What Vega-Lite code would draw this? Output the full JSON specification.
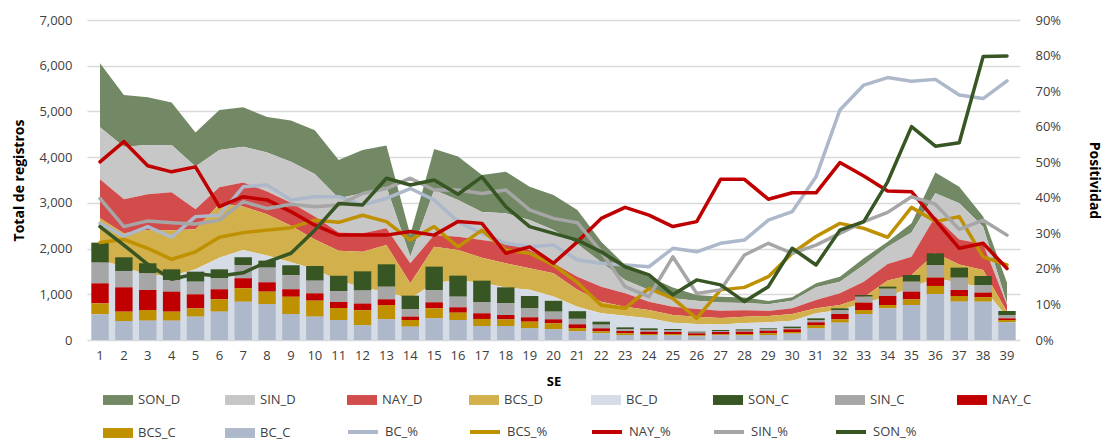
{
  "$schema": "https://vega.github.io/schema/vega-lite/v6.json",
  "width": 933,
  "height": 320,
  "autosize": {"type": "none"},
  "padding": {"left": 87, "top": 20, "right": 90, "bottom": 102},
  "config": {
    "font": "Open Sans",
    "view": {"stroke": null},
    "axis": {"labelColor": "#404040", "titleColor": "#000000", "labelFontSize": 13, "titleFontSize": 14, "titleFontWeight": "bold"},
    "legend": {"labelFontSize": 13, "labelColor": "#404040", "labelOffset": 5, "labelLimit": 90}
  },
  "datasets": {
    "series": [
      {"serie": "SON_D", "estado": "SON"}, {"serie": "SIN_D", "estado": "SIN"}, {"serie": "NAY_D", "estado": "NAY"}, {"serie": "BCS_D", "estado": "BCS"}, {"serie": "BC_D", "estado": "BC"},
      {"serie": "SON_C", "estado": "SON"}, {"serie": "SIN_C", "estado": "SIN"}, {"serie": "NAY_C", "estado": "NAY"}, {"serie": "BCS_C", "estado": "BCS"}, {"serie": "BC_C", "estado": "BC"}
    ],
    "semanas": [
      {"SE": 1, "SON_D": 1400, "SIN_D": 1138, "NAY_D": 854, "BCS_D": 912, "BC_D": 1750, "SON_C": 438, "SIN_C": 452, "NAY_C": 438, "BCS_C": 240, "BC_C": 562, "BC_%": 32.8, "BCS_%": 27.4, "NAY_%": 50.1, "SIN_%": 39.8, "SON_%": 31.9},
      {"SE": 2, "SON_D": 1131, "SIN_D": 1152, "NAY_D": 744, "BCS_D": 734, "BC_D": 1600, "SON_C": 299, "SIN_C": 358, "NAY_C": 532, "BCS_C": 204, "BC_C": 416, "BC_%": 29.2, "BCS_%": 28.3, "NAY_%": 55.8, "SIN_%": 31.9, "SON_%": 26.7},
      {"SE": 3, "SON_D": 1043, "SIN_D": 1080, "NAY_D": 780, "BCS_D": 987, "BC_D": 1420, "SON_C": 219, "SIN_C": 365, "NAY_C": 438, "BCS_C": 233, "BC_C": 423, "BC_%": 31.9, "BCS_%": 25.8, "NAY_%": 49.0, "SIN_%": 33.5, "SON_%": 21.3},
      {"SE": 4, "SON_D": 926, "SIN_D": 1036, "NAY_D": 831, "BCS_D": 1000, "BC_D": 1400, "SON_C": 233, "SIN_C": 255, "NAY_C": 438, "BCS_C": 197, "BC_C": 423, "BC_%": 28.9, "BCS_%": 22.7, "NAY_%": 47.3, "SIN_%": 33.0, "SON_%": 17.1},
      {"SE": 5, "SON_D": 744, "SIN_D": 934, "NAY_D": 439, "BCS_D": 870, "BC_D": 1550, "SON_C": 219, "SIN_C": 277, "NAY_C": 306, "BCS_C": 182, "BC_C": 511, "BC_%": 34.7, "BCS_%": 24.8, "NAY_%": 48.7, "SIN_%": 32.6, "SON_%": 18.6},
      {"SE": 6, "SON_D": 875, "SIN_D": 817, "NAY_D": 365, "BCS_D": 1176, "BC_D": 1800, "SON_C": 197, "SIN_C": 240, "NAY_C": 219, "BCS_C": 270, "BC_C": 620, "BC_%": 35.1, "BCS_%": 28.9, "NAY_%": 37.5, "SIN_%": 33.7, "SON_%": 18.0},
      {"SE": 7, "SON_D": 861, "SIN_D": 787, "NAY_D": 523, "BCS_D": 950, "BC_D": 1970, "SON_C": 168, "SIN_C": 292, "NAY_C": 219, "BCS_C": 292, "BC_C": 839, "BC_%": 43.1, "BCS_%": 30.2, "NAY_%": 40.3, "SIN_%": 38.9, "SON_%": 18.9},
      {"SE": 8, "SON_D": 780, "SIN_D": 850, "NAY_D": 500, "BCS_D": 900, "BC_D": 1850, "SON_C": 153, "SIN_C": 321, "NAY_C": 204, "BCS_C": 270, "BC_C": 788, "BC_%": 43.6, "BCS_%": 30.9, "NAY_%": 39.4, "SIN_%": 37.0, "SON_%": 22.0},
      {"SE": 9, "SON_D": 900, "SIN_D": 900, "NAY_D": 500, "BCS_D": 800, "BC_D": 1700, "SON_C": 219, "SIN_C": 306, "NAY_C": 161, "BCS_C": 379, "BC_C": 569, "BC_%": 39.4, "BCS_%": 31.6, "NAY_%": 36.1, "SIN_%": 38.2, "SON_%": 24.4},
      {"SE": 10, "SON_D": 960, "SIN_D": 930, "NAY_D": 500, "BCS_D": 650, "BC_D": 1550, "SON_C": 321, "SIN_C": 277, "NAY_C": 160, "BCS_C": 350, "BC_C": 511, "BC_%": 40.3, "BCS_%": 33.7, "NAY_%": 32.3, "SIN_%": 37.5, "SON_%": 30.9},
      {"SE": 11, "SON_D": 839, "SIN_D": 750, "NAY_D": 400, "BCS_D": 650, "BC_D": 1300, "SON_C": 336, "SIN_C": 240, "NAY_C": 132, "BCS_C": 262, "BC_C": 438, "BC_%": 40.3, "BCS_%": 33.1, "NAY_%": 29.5, "SIN_%": 38.0, "SON_%": 38.4},
      {"SE": 12, "SON_D": 949, "SIN_D": 875, "NAY_D": 401, "BCS_D": 783, "BC_D": 1150, "SON_C": 420, "SIN_C": 285, "NAY_C": 145, "BCS_C": 327, "BC_C": 325, "BC_%": 38.0, "BCS_%": 35.1, "NAY_%": 29.5, "SIN_%": 41.2, "SON_%": 38.0},
      {"SE": 13, "SON_D": 897, "SIN_D": 912, "NAY_D": 364, "BCS_D": 1029, "BC_D": 1050, "SON_C": 489, "SIN_C": 277, "NAY_C": 124, "BCS_C": 314, "BC_C": 452, "BC_%": 39.8, "BCS_%": 33.3, "NAY_%": 29.5, "SIN_%": 42.6, "SON_%": 45.5},
      {"SE": 14, "SON_D": 477, "SIN_D": 145, "NAY_D": 438, "BCS_D": 340, "BC_D": 900, "SON_C": 299, "SIN_C": 160, "NAY_C": 73, "BCS_C": 146, "BC_C": 292, "BC_%": 42.6, "BCS_%": 28.1, "NAY_%": 30.5, "SIN_%": 45.5, "SON_%": 43.6},
      {"SE": 15, "SON_D": 897, "SIN_D": 984, "NAY_D": 256, "BCS_D": 792, "BC_D": 1250, "SON_C": 511, "SIN_C": 270, "NAY_C": 131, "BCS_C": 219, "BC_C": 474, "BC_%": 39.4, "BCS_%": 31.9, "NAY_%": 29.5, "SIN_%": 42.2, "SON_%": 45.0},
      {"SE": 16, "SON_D": 949, "SIN_D": 802, "NAY_D": 292, "BCS_D": 669, "BC_D": 1300, "SON_C": 460, "SIN_C": 233, "NAY_C": 117, "BCS_C": 160, "BC_C": 438, "BC_%": 33.3, "BCS_%": 26.2, "NAY_%": 33.3, "SIN_%": 42.2, "SON_%": 41.0},
      {"SE": 17, "SON_D": 810, "SIN_D": 612, "NAY_D": 388, "BCS_D": 550, "BC_D": 1250, "SON_C": 474, "SIN_C": 240, "NAY_C": 124, "BCS_C": 154, "BC_C": 306, "BC_%": 30.0, "BCS_%": 30.9, "NAY_%": 32.8, "SIN_%": 41.2, "SON_%": 45.9},
      {"SE": 18, "SON_D": 911, "SIN_D": 657, "NAY_D": 437, "BCS_D": 528, "BC_D": 1150, "SON_C": 350, "SIN_C": 255, "NAY_C": 95, "BCS_C": 146, "BC_C": 306, "BC_%": 27.2, "BCS_%": 25.3, "NAY_%": 24.4, "SIN_%": 42.2, "SON_%": 37.5},
      {"SE": 19, "SON_D": 729, "SIN_D": 657, "NAY_D": 401, "BCS_D": 468, "BC_D": 1100, "SON_C": 270, "SIN_C": 197, "NAY_C": 95, "BCS_C": 146, "BC_C": 255, "BC_%": 26.2, "BCS_%": 24.4, "NAY_%": 26.2, "SIN_%": 36.6, "SON_%": 31.9},
      {"SE": 20, "SON_D": 766, "SIN_D": 729, "NAY_D": 219, "BCS_D": 509, "BC_D": 950, "SON_C": 237, "SIN_C": 168, "NAY_C": 87, "BCS_C": 128, "BC_C": 237, "BC_%": 26.7, "BCS_%": 21.1, "NAY_%": 21.6, "SIN_%": 34.2, "SON_%": 30.0},
      {"SE": 21, "SON_D": 745, "SIN_D": 714, "NAY_D": 286, "BCS_D": 370, "BC_D": 730, "SON_C": 167, "SIN_C": 120, "NAY_C": 80, "BCS_C": 73, "BC_C": 190, "BC_%": 22.5, "BCS_%": 16.2, "NAY_%": 27.6, "SIN_%": 33.0, "SON_%": 28.1},
      {"SE": 22, "SON_D": 450, "SIN_D": 533, "NAY_D": 328, "BCS_D": 255, "BC_D": 584, "SON_C": 66, "SIN_C": 80, "NAY_C": 65, "BCS_C": 44, "BC_C": 146, "BC_%": 21.6, "BCS_%": 9.8, "NAY_%": 34.2, "SIN_%": 24.8, "SON_%": 24.8},
      {"SE": 23, "SON_D": 327, "SIN_D": 292, "NAY_D": 291, "BCS_D": 200, "BC_D": 530, "SON_C": 44, "SIN_C": 36, "NAY_C": 51, "BCS_C": 37, "BC_C": 109, "BC_%": 21.1, "BCS_%": 8.9, "NAY_%": 37.3, "SIN_%": 15.0, "SON_%": 20.6},
      {"SE": 24, "SON_D": 292, "SIN_D": 255, "NAY_D": 183, "BCS_D": 182, "BC_D": 474, "SON_C": 36, "SIN_C": 37, "NAY_C": 51, "BCS_C": 22, "BC_C": 109, "BC_%": 20.6, "BCS_%": 14.5, "NAY_%": 35.1, "SIN_%": 12.2, "SON_%": 18.3},
      {"SE": 25, "SON_D": 238, "SIN_D": 183, "NAY_D": 182, "BCS_D": 167, "BC_D": 380, "SON_C": 29, "SIN_C": 37, "NAY_C": 44, "BCS_C": 29, "BC_C": 102, "BC_%": 25.8, "BCS_%": 11.7, "NAY_%": 31.9, "SIN_%": 23.4, "SON_%": 12.7},
      {"SE": 26, "SON_D": 125, "SIN_D": 180, "NAY_D": 170, "BCS_D": 160, "BC_D": 350, "SON_C": 22, "SIN_C": 14, "NAY_C": 44, "BCS_C": 22, "BC_C": 80, "BC_%": 24.8, "BCS_%": 6.1, "NAY_%": 33.3, "SIN_%": 13.1, "SON_%": 16.9},
      {"SE": 27, "SON_D": 128, "SIN_D": 180, "NAY_D": 160, "BCS_D": 140, "BC_D": 340, "SON_C": 22, "SIN_C": 22, "NAY_C": 51, "BCS_C": 22, "BC_C": 102, "BC_%": 27.2, "BCS_%": 14.1, "NAY_%": 45.2, "SIN_%": 14.1, "SON_%": 15.5},
      {"SE": 28, "SON_D": 120, "SIN_D": 160, "NAY_D": 140, "BCS_D": 140, "BC_D": 370, "SON_C": 29, "SIN_C": 22, "NAY_C": 51, "BCS_C": 29, "BC_C": 102, "BC_%": 28.1, "BCS_%": 14.8, "NAY_%": 45.2, "SIN_%": 23.9, "SON_%": 10.8},
      {"SE": 29, "SON_D": 73, "SIN_D": 145, "NAY_D": 110, "BCS_D": 138, "BC_D": 387, "SON_C": 22, "SIN_C": 29, "NAY_C": 58, "BCS_C": 37, "BC_C": 109, "BC_%": 33.7, "BCS_%": 17.8, "NAY_%": 39.6, "SIN_%": 27.2, "SON_%": 15.0},
      {"SE": 30, "SON_D": 74, "SIN_D": 167, "NAY_D": 124, "BCS_D": 146, "BC_D": 423, "SON_C": 29, "SIN_C": 30, "NAY_C": 58, "BCS_C": 36, "BC_C": 139, "BC_%": 36.1, "BCS_%": 24.4, "NAY_%": 41.4, "SIN_%": 24.4, "SON_%": 25.8},
      {"SE": 31, "SON_D": 88, "SIN_D": 277, "NAY_D": 182, "BCS_D": 109, "BC_D": 584, "SON_C": 36, "SIN_C": 51, "NAY_C": 59, "BCS_C": 73, "BC_C": 255, "BC_%": 45.9, "BCS_%": 29.1, "NAY_%": 41.4, "SIN_%": 26.7, "SON_%": 21.1},
      {"SE": 32, "SON_D": 110, "SIN_D": 255, "NAY_D": 255, "BCS_D": 110, "BC_D": 656, "SON_C": 37, "SIN_C": 87, "NAY_C": 117, "BCS_C": 73, "BC_C": 379, "BC_%": 64.7, "BCS_%": 32.8, "NAY_%": 49.9, "SIN_%": 30.0, "SON_%": 30.9},
      {"SE": 33, "SON_D": 146, "SIN_D": 365, "NAY_D": 342, "BCS_D": 132, "BC_D": 802, "SON_C": 37, "SIN_C": 131, "NAY_C": 161, "BCS_C": 87, "BC_C": 569, "BC_%": 71.7, "BCS_%": 31.4, "NAY_%": 46.1, "SIN_%": 33.3, "SON_%": 33.3},
      {"SE": 34, "SON_D": 110, "SIN_D": 380, "NAY_D": 360, "BCS_D": 350, "BC_D": 950, "SON_C": 44, "SIN_C": 160, "NAY_C": 197, "BCS_C": 73, "BC_C": 693, "BC_%": 73.8, "BCS_%": 28.9, "NAY_%": 41.9, "SIN_%": 35.9, "SON_%": 44.5},
      {"SE": 35, "SON_D": 204, "SIN_D": 526, "NAY_D": 401, "BCS_D": 272, "BC_D": 1150, "SON_C": 146, "SIN_C": 218, "NAY_C": 168, "BCS_C": 124, "BC_C": 766, "BC_%": 72.8, "BCS_%": 37.3, "NAY_%": 41.7, "SIN_%": 40.3, "SON_%": 60.0},
      {"SE": 36, "SON_D": 453, "SIN_D": 509, "NAY_D": 800, "BCS_D": 550, "BC_D": 1350, "SON_C": 255, "SIN_C": 277, "NAY_C": 182, "BCS_C": 175, "BC_C": 1007, "BC_%": 73.3, "BCS_%": 33.3, "NAY_%": 33.7, "SIN_%": 38.2, "SON_%": 54.5},
      {"SE": 37, "SON_D": 365, "SIN_D": 790, "NAY_D": 550, "BCS_D": 400, "BC_D": 1250, "SON_C": 219, "SIN_C": 270, "NAY_C": 131, "BCS_C": 124, "BC_C": 839, "BC_%": 68.9, "BCS_%": 34.7, "NAY_%": 25.8, "SIN_%": 31.1, "SON_%": 55.5},
      {"SE": 38, "SON_D": 219, "SIN_D": 380, "NAY_D": 568, "BCS_D": 382, "BC_D": 1150, "SON_C": 197, "SIN_C": 167, "NAY_C": 102, "BCS_C": 95, "BC_C": 839, "BC_%": 67.9, "BCS_%": 23.4, "NAY_%": 27.2, "SIN_%": 33.7, "SON_%": 79.7},
      {"SE": 39, "SON_D": 450, "SIN_D": 34, "NAY_D": 146, "BCS_D": 120, "BC_D": 500, "SON_C": 88, "SIN_C": 73, "NAY_C": 36, "BCS_C": 51, "BC_C": 387, "BC_%": 72.9, "BCS_%": 21.1, "NAY_%": 20.1, "SIN_%": 29.5, "SON_%": 79.9}
    ]
  },
  "data": {"name": "semanas"},
  "layer": [
    {
      "layer": [
        {
          "transform": [
            {"fold": ["SON_D", "SIN_D", "NAY_D", "BCS_D", "BC_D"], "as": ["serie", "valor"]},
            {"lookup": "serie", "from": {"data": {"name": "series"}, "key": "serie", "fields": ["estado"]}}
          ],
          "mark": {"type": "area"},
          "encoding": {
            "x": {"field": "SE", "type": "ordinal", "bandPosition": 0.5, "scale": {"type": "band", "paddingInner": 0.27, "paddingOuter": 0.18},
              "axis": {"title": "SE", "labelAngle": 0, "domain": false, "ticks": false, "grid": false, "labelPadding": 9, "titlePadding": 13, "titleFontSize": 13}},
            "y": {"field": "valor", "type": "quantitative", "stack": "zero", "scale": {"domain": [0, 7000], "nice": false},
              "axis": {"orient": "left", "values": [0, 1000, 2000, 3000, 4000, 5000, 6000, 7000], "format": ",.0f", "grid": true, "gridColor": "#D9D9D9", "gridWidth": 1.5, "domain": false, "ticks": false, "labelPadding": 15, "title": "Total de registros", "titlePadding": 12}},
            "fill": {"field": "serie", "type": "nominal",
              "scale": {"domain": ["SON_D", "SIN_D", "NAY_D", "BCS_D", "BC_D", "SON_C", "SIN_C", "NAY_C", "BCS_C", "BC_C"],
                "range": ["#738965", "#C7C7C7", "#D34C4C", "#D2B14C", "#D6DCE5", "#375623", "#A6A6A6", "#C00000", "#BF9000", "#ADB9CA"]},
              "legend": {"orient": "none", "legendX": 16, "legendY": 365, "direction": "horizontal", "columns": 8, "gridAlign": "all", "columnPadding": 44, "rowPadding": 11, "title": null, "symbolSize": 900, "symbolType": "M-1,-0.33H1V0.33H-1Z", "symbolStrokeWidth": 0}},
            "order": {"field": "estado", "sort": "ascending"}
          }
        },
        {
          "transform": [
            {"fold": ["SON_C", "SIN_C", "NAY_C", "BCS_C", "BC_C"], "as": ["serie", "valor"]},
            {"lookup": "serie", "from": {"data": {"name": "series"}, "key": "serie", "fields": ["estado"]}}
          ],
          "mark": {"type": "bar"},
          "encoding": {
            "x": {"field": "SE", "type": "ordinal", "scale": {"type": "band", "paddingInner": 0.27, "paddingOuter": 0.18}},
            "y": {"field": "valor", "type": "quantitative", "stack": "zero", "scale": {"domain": [0, 7000], "nice": false}},
            "fill": {"field": "serie", "type": "nominal",
              "scale": {"domain": ["SON_D", "SIN_D", "NAY_D", "BCS_D", "BC_D", "SON_C", "SIN_C", "NAY_C", "BCS_C", "BC_C"],
                "range": ["#738965", "#C7C7C7", "#D34C4C", "#D2B14C", "#D6DCE5", "#375623", "#A6A6A6", "#C00000", "#BF9000", "#ADB9CA"]}},
            "order": {"field": "estado", "sort": "ascending"}
          }
        }
      ]
    },
    {
      "transform": [
        {"fold": ["BC_%", "BCS_%", "NAY_%", "SIN_%", "SON_%"], "as": ["serie", "valor"]}
      ],
      "mark": {"type": "line", "strokeWidth": 3.5, "strokeCap": "round", "strokeJoin": "round"},
      "encoding": {
        "x": {"field": "SE", "type": "ordinal", "bandPosition": 0.5, "scale": {"type": "band", "paddingInner": 0.27, "paddingOuter": 0.18}},
        "y": {"field": "valor", "type": "quantitative", "scale": {"domain": [0, 90], "nice": false},
          "axis": {"orient": "right", "values": [0, 10, 20, 30, 40, 50, 60, 70, 80, 90], "labelExpr": "datum.value + '%'", "grid": false, "domain": false, "ticks": false, "labelPadding": 15, "title": "Positividad", "titleAngle": 90, "titlePadding": 26}},
        "stroke": {"field": "serie", "type": "nominal",
          "scale": {"domain": ["BC_%", "BCS_%", "NAY_%", "SIN_%", "SON_%"], "range": ["#ADB9CA", "#BF9000", "#C00000", "#A6A6A6", "#375623"]},
          "legend": {"orient": "none", "legendX": 259, "legendY": 395, "direction": "horizontal", "columns": 5, "gridAlign": "all", "columnPadding": 33, "title": null, "symbolSize": 900, "symbolType": "stroke", "symbolStrokeWidth": 4}}
      }
    }
  ],
  "resolve": {"scale": {"y": "independent"}}
}
